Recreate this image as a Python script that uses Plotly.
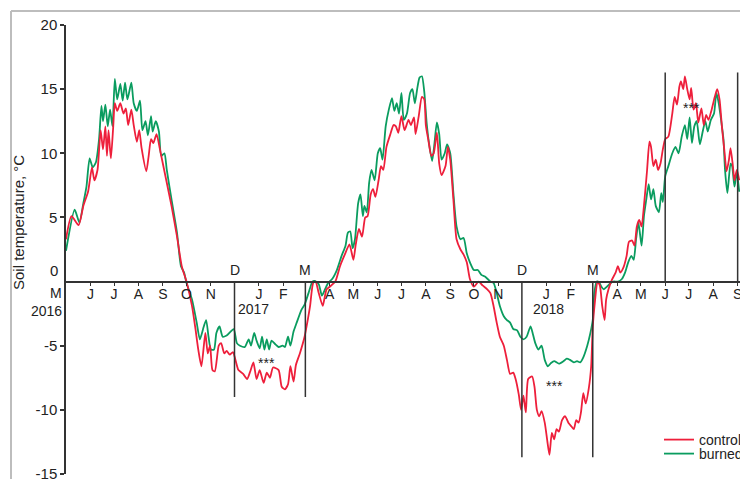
import pandas as pd
import plotly.graph_objects as go

START = pd.Timestamp("2016-05-01")

# days since 1 May 2016 and soil temperature (°C), burned plot
burned_days = [0, 11, 17, 22, 26, 30, 34, 38, 42, 45, 47, 50, 53, 56, 59, 62, 65, 69, 72, 75, 78, 83, 86, 90, 94, 97,
               101, 104, 108, 110, 114, 118, 121, 125, 128, 134, 141, 146, 150, 153, 160, 166, 170, 175, 178, 181, 184,
               188, 191, 195, 199, 204, 213, 217, 221, 227, 232, 235, 239, 242, 246, 249, 252, 255, 258, 261, 266, 270,
               275, 278, 282, 285, 289, 293, 299, 303, 308, 313, 316, 321, 325, 329, 333, 338, 344, 350, 355, 358, 361,
               364, 367, 371, 374, 377, 379, 382, 385, 388, 392, 396, 399, 402, 406, 410, 414, 417, 420, 423, 426, 429,
               433, 437, 440, 443, 446, 449, 452, 455, 458, 461, 465, 468, 471, 474, 477, 481, 484, 488, 492, 496, 501,
               505, 509, 513, 518, 523, 528, 532, 539, 543, 547, 551, 556, 560, 564, 568, 573, 577, 581, 585, 590, 593,
               596, 600, 604, 608, 612, 616, 620, 626, 632, 636, 640, 645, 649, 653, 657, 662, 666, 669, 671, 674, 677,
               680, 683, 687, 691, 695, 701, 706, 710, 714, 718, 721, 724, 727, 731, 734, 737, 740, 743, 746, 749, 753,
               756, 758, 761, 765, 770, 774, 778, 782, 786, 789, 792, 795, 798, 801, 805, 809, 812, 815, 819, 823, 826,
               829, 832, 835, 837, 840, 844, 846, 849, 852, 855]
burned_temp = [2.4, 5.6, 4.6, 6.1, 7.4, 9.6, 8.9, 9.3, 11.1, 13.7, 12.5, 13.8, 12.1, 13.4, 12.1, 15.8, 14.2, 15.4, 14.1,
               15.5, 14.2, 15.5, 13.9, 13.3, 14.1, 11.8, 12.5, 11.4, 12.9, 11.7, 12.5, 11.7, 9.8, 10.0, 8.7, 6.4, 3.8,
               1.2, 0.7, -0.1, -1.4, -3.2, -4.5, -3.5, -3.0, -4.3, -5.3, -5.3, -4.0, -3.5, -4.3, -4.2, -3.7, -4.8, -5.0,
               -5.1, -4.5, -5.0, -4.0, -4.6, -5.2, -4.3, -5.3, -4.5, -5.3, -4.6, -4.9, -5.1, -5.0, -5.1, -4.3, -5.0,
               -3.9, -3.2, -2.2, -1.8, -0.9, 0.0, 0.05, -0.2, -1.1, -0.6, -0.1, 0.2, 0.9, 2.0, 2.8, 3.8, 3.9, 2.6, 3.3,
               6.1, 6.8, 5.1, 5.9, 5.4, 7.7, 8.7, 7.9, 10.0, 10.4, 9.5, 12.1, 13.4, 14.3, 13.3, 13.9, 13.1, 14.7, 12.6,
               13.1, 14.7, 15.0, 13.9, 15.0, 15.9, 16.0, 14.8, 12.4, 10.8, 9.4, 10.8, 12.4, 11.5, 9.5, 10.0, 10.7, 10.0,
               6.9, 4.3, 3.3, 3.4, 2.2, 1.5, 0.9, 0.9, 0.5, 0.4, 0.0, -0.1, -0.9, -1.9, -2.7, -3.0, -3.2, -3.7, -3.8,
               -4.3, -4.5, -4.3, -3.5, -4.1, -4.8, -5.3, -5.0, -6.1, -6.6, -6.35, -6.2, -6.4, -6.2, -6.0, -6.1, -6.3,
               -6.2, -6.3, -5.9, -5.0, -4.0, -3.0, -0.9, 0.0, -0.05, -0.4, -0.6, -0.4, -0.15, 0.0, 0.0, 0.2, 0.7, 1.5,
               2.0, 1.7, 3.3, 4.6, 2.8, 5.1, 6.4, 7.6, 6.4, 7.2, 5.9, 5.4, 6.9, 6.2, 8.2, 9.0, 10.0, 10.5, 10.0, 11.3,
               12.2, 11.1, 12.8, 10.8, 12.1, 12.5, 10.7, 11.8, 12.5, 11.7, 12.6, 13.1, 14.7, 13.9, 12.6, 11.1, 8.7, 6.9,
               9.2, 9.0, 7.4, 8.5, 7.0]

# days since 1 May 2016 and soil temperature (°C), control plot
control_days = [0, 7, 16, 22, 28, 33, 36, 40, 44, 47, 50, 52, 54, 57, 60, 62, 65, 69, 73, 76, 79, 83, 86, 90, 93, 96,
                102, 105, 108, 111, 115, 119, 122, 128, 134, 141, 147, 153, 160, 164, 168, 172, 177, 180, 183, 186,
                189, 194, 197, 201, 204, 208, 212, 219, 225, 230, 234, 238, 242, 246, 251, 255, 259, 263, 270, 274,
                278, 282, 285, 289, 292, 297, 303, 307, 310, 314, 317, 321, 326, 328, 331, 335, 342, 348, 354, 360,
                365, 368, 372, 376, 380, 383, 387, 390, 393, 397, 400, 403, 407, 412, 416, 419, 422, 426, 430, 435,
                438, 442, 444, 448, 452, 455, 457, 460, 464, 467, 471, 474, 477, 482, 485, 488, 492, 496, 501, 505,
                509, 513, 518, 524, 529, 535, 539, 543, 547, 551, 556, 560, 564, 568, 571, 575, 578, 581, 584, 587,
                592, 595, 598, 601, 604, 608, 611, 614, 617, 620, 623, 626, 630, 634, 638, 642, 645, 648, 651, 654,
                657, 660, 664, 667, 669, 672, 675, 678, 681, 684, 686, 689, 693, 698, 701, 704, 708, 712, 715, 719,
                722, 725, 728, 731, 734, 738, 741, 743, 746, 749, 752, 755, 758, 761, 765, 770, 773, 776, 779, 781,
                784, 786, 789, 792, 794, 797, 800, 803, 807, 810, 813, 816, 820, 824, 827, 830, 833, 836, 839, 842,
                844, 847, 849, 852, 855]
control_temp = [3.3, 5.1, 4.4, 5.9, 7.0, 8.9, 7.9, 8.7, 11.8, 10.3, 12.1, 9.8, 11.8, 9.6, 12.1, 13.9, 13.3, 13.9, 13.1,
                13.5, 12.2, 13.4, 12.2, 10.9, 11.8, 10.4, 8.6, 9.8, 11.1, 10.8, 11.5, 10.4, 9.5, 7.7, 5.9, 3.5, 1.2,
                0.0, -1.9, -3.5, -5.3, -6.6, -4.0, -5.6, -5.0, -6.9, -7.0, -5.0, -4.8, -5.6, -5.4, -5.7, -5.5, -6.9,
                -7.2, -7.6, -7.0, -6.3, -7.6, -6.9, -7.9, -7.1, -7.5, -6.7, -6.9, -8.2, -8.4, -8.0, -6.6, -7.8, -6.5,
                -5.6, -4.3, -3.0, -1.9, -0.1, 0.0, -0.9, -1.9, -1.4, -0.6, -0.4, 0.0, 1.2, 2.1, 2.9, 1.7, 2.9, 4.1,
                3.5, 5.0, 5.1, 6.8, 7.2, 6.6, 7.9, 9.0, 8.7, 10.5, 11.5, 12.2, 12.1, 11.6, 12.9, 11.8, 12.6, 12.2,
                12.8, 11.5, 12.9, 14.4, 14.2, 12.2, 11.1, 9.8, 10.0, 11.6, 9.2, 8.3, 9.0, 10.5, 9.5, 6.4, 3.3, 2.5,
                2.1, 1.5, 0.2, -0.4, 0.0, -0.3, -0.6, -0.9, -1.9, -3.2, -4.3, -5.0, -6.1, -7.2, -7.1, -7.6, -8.8,
                -10.0, -8.9, -10.2, -7.6, -7.4, -8.2, -10.0, -10.5, -10.1, -11.0, -12.3, -13.5, -11.8, -12.3, -11.5,
                -11.7, -10.8, -10.5, -11.0, -11.3, -11.5, -10.8, -11.0, -10.2, -8.7, -9.5, -8.3, -6.6, -3.5, -1.4,
                0.0, -0.3, -1.9, -3.0, -1.4, -0.6, 0.1, 0.7, 1.2, 0.7, 1.1, 2.0, 3.1, 3.2, 2.8, 4.3, 4.8, 4.3, 5.9,
                8.7, 10.9, 10.5, 9.0, 9.5, 8.7, 9.2, 10.3, 11.1, 11.3, 13.1, 14.4, 13.8, 15.2, 15.6, 15.0, 16.0, 15.0,
                14.2, 15.1, 13.4, 13.9, 12.4, 13.5, 12.2, 13.0, 12.6, 13.4, 14.4, 15.0, 14.2, 12.1, 10.3, 8.6, 9.5,
                10.4, 9.0, 7.9, 8.7, 7.9]

# month tick labels below the axis
month_ticks = ["2016-06-01", "2016-07-01", "2016-08-01", "2016-09-01", "2016-10-01", "2016-11-01",
               "2017-01-01", "2017-02-01", "2017-04-01", "2017-05-01", "2017-06-01", "2017-07-01",
               "2017-08-01", "2017-09-01", "2017-10-01", "2017-11-01", "2018-01-01", "2018-02-01",
               "2018-04-01", "2018-05-01", "2018-06-01", "2018-07-01", "2018-08-01", "2018-09-01"]
month_labels = ["J", "J", "A", "S", "O", "N", "J", "F", "A", "M", "J", "J",
                "A", "S", "O", "N", "J", "F", "A", "M", "J", "J", "A", "S"]

# compared periods: (start, end, y-limit of the marker lines, label of start, label of end)
periods = [("2016-12-01", "2017-03-01", -9.0, "D", "M"),
           ("2017-12-01", "2018-03-01", -13.7, "D", "M"),
           ("2018-06-01", "2018-09-01", 16.3, "", "")]
# significance marks: (date, value)
sig_marks = [("2017-01-11", -6.1), ("2018-01-12", -7.9), ("2018-07-05", 13.8)]
year_labels = [("2016-12-03", "2017"), ("2017-12-13", "2018")]

RED = "#ee1f3b"
GREEN = "#0a9c5f"
FONT = "Arial, Liberation Sans, sans-serif"
AX = "#333333"
TXT = "#222222"

W, H = 740, 479

burned_dates = START + pd.to_timedelta(burned_days, unit="D")
control_dates = START + pd.to_timedelta(control_days, unit="D")

fig = go.Figure()
fig.add_trace(go.Scatter(x=burned_dates, y=burned_temp, mode="lines", name="burned", legend="legend2",
                         line=dict(color=GREEN, width=1.8, shape="spline", smoothing=0.6)))
fig.add_trace(go.Scatter(x=control_dates, y=control_temp, mode="lines", name="control", legend="legend",
                         line=dict(color=RED, width=1.8, shape="spline", smoothing=0.6)))

shapes = []
for d0, d1, ylim, l0, l1 in periods:
    for d in (d0, d1):
        shapes.append(dict(type="line", xref="x", yref="y", x0=d, x1=d, y0=0, y1=ylim,
                           line=dict(color=AX, width=1.5), layer="above"))
# outer frame
shapes.append(dict(type="line", xref="paper", yref="paper", x0=-0.0816, x1=-0.0816, y0=-0.05, y1=1.0312,
                   line=dict(color="#bdbdbd", width=2)))
shapes.append(dict(type="line", xref="paper", yref="paper", x0=-0.0816, x1=1.02, y0=1.0312, y1=1.0312,
                   line=dict(color="#bdbdbd", width=2)))

ann = []
for d0, d1, ylim, l0, l1 in periods:
    for d, t in ((d0, l0), (d1, l1)):
        if t:
            ann.append(dict(x=d, y=0, text=t, showarrow=False, yanchor="bottom", yshift=2,
                            font=dict(size=14, color=TXT)))
for d, v in sig_marks:
    ann.append(dict(x=d, y=v, text="***", showarrow=False, yshift=-3, font=dict(size=14, color=TXT)))
for d, t in year_labels:
    ann.append(dict(x=d, y=0, text=t, showarrow=False, xanchor="left", yanchor="middle", yshift=-27,
                    font=dict(size=14, color=TXT)))
ann.append(dict(x="2016-05-01", y=0, text="M", showarrow=False, xanchor="center", xshift=-10,
                yanchor="middle", yshift=-11, font=dict(size=14, color=TXT)))
ann.append(dict(x="2016-05-01", y=0, text="2016", showarrow=False, xanchor="right", xshift=-2,
                yanchor="middle", yshift=-29, font=dict(size=14, color=TXT)))
ann.append(dict(x="2016-05-01", y=0, text="0", showarrow=False, xanchor="right", xshift=-6,
                yanchor="middle", yshift=11, font=dict(size=15, color=TXT)))
ann.append(dict(xref="paper", yref="paper", x=-0.0712, y=0.559, xanchor="center", yanchor="middle",
                text="Soil temperature, °C", textangle=-90, showarrow=False, font=dict(size=15, color=TXT)))

leg_common = dict(xref="container", yref="container", x=659 / W, xanchor="left", yanchor="middle",
                  bgcolor="rgba(0,0,0,0)", font=dict(size=14, color=TXT), itemwidth=30)

fig.update_layout(
    width=W, height=H,
    margin=dict(l=66, r=0, t=25, b=5, autoexpand=False),
    paper_bgcolor="white", plot_bgcolor="white",
    font=dict(family=FONT, size=14, color=TXT),
    shapes=shapes, annotations=ann,
    showlegend=True,
    legend=dict(y=1 - 440 / H, **leg_common),
    legend2=dict(y=1 - 454 / H, **leg_common),
    xaxis=dict(type="date", range=["2016-05-01", "2018-09-04"], anchor="free", position=15 / 35,
               showline=True, linecolor=AX, linewidth=1.5, showgrid=False, zeroline=False,
               tickmode="array", tickvals=month_ticks, ticktext=month_labels, ticklabelstandoff=-4,
               ticklabeloverflow="allow",
               ticks="outside", ticklen=4, tickcolor=AX, tickwidth=1, tickfont=dict(size=14, color=TXT)),
    yaxis=dict(range=[-15, 20], showline=True, linecolor=AX, linewidth=1.5, showgrid=False, zeroline=False,
               tickmode="array", tickvals=[-15, -10, -5, 5, 10, 15, 20],
               ticktext=["-15", "-10", "-5", "5", "10", "15", "20"], ticklabeloverflow="allow",
               ticks="outside", ticklen=4, tickcolor=AX, tickwidth=1.5, tickfont=dict(size=15, color=TXT)),
)

# remove the default page margin so the 740x479 figure fills the window exactly
fig.write_html("out.html", config={"displayModeBar": False},
               post_script="document.body.style.margin='0';document.body.style.overflow='hidden';")
